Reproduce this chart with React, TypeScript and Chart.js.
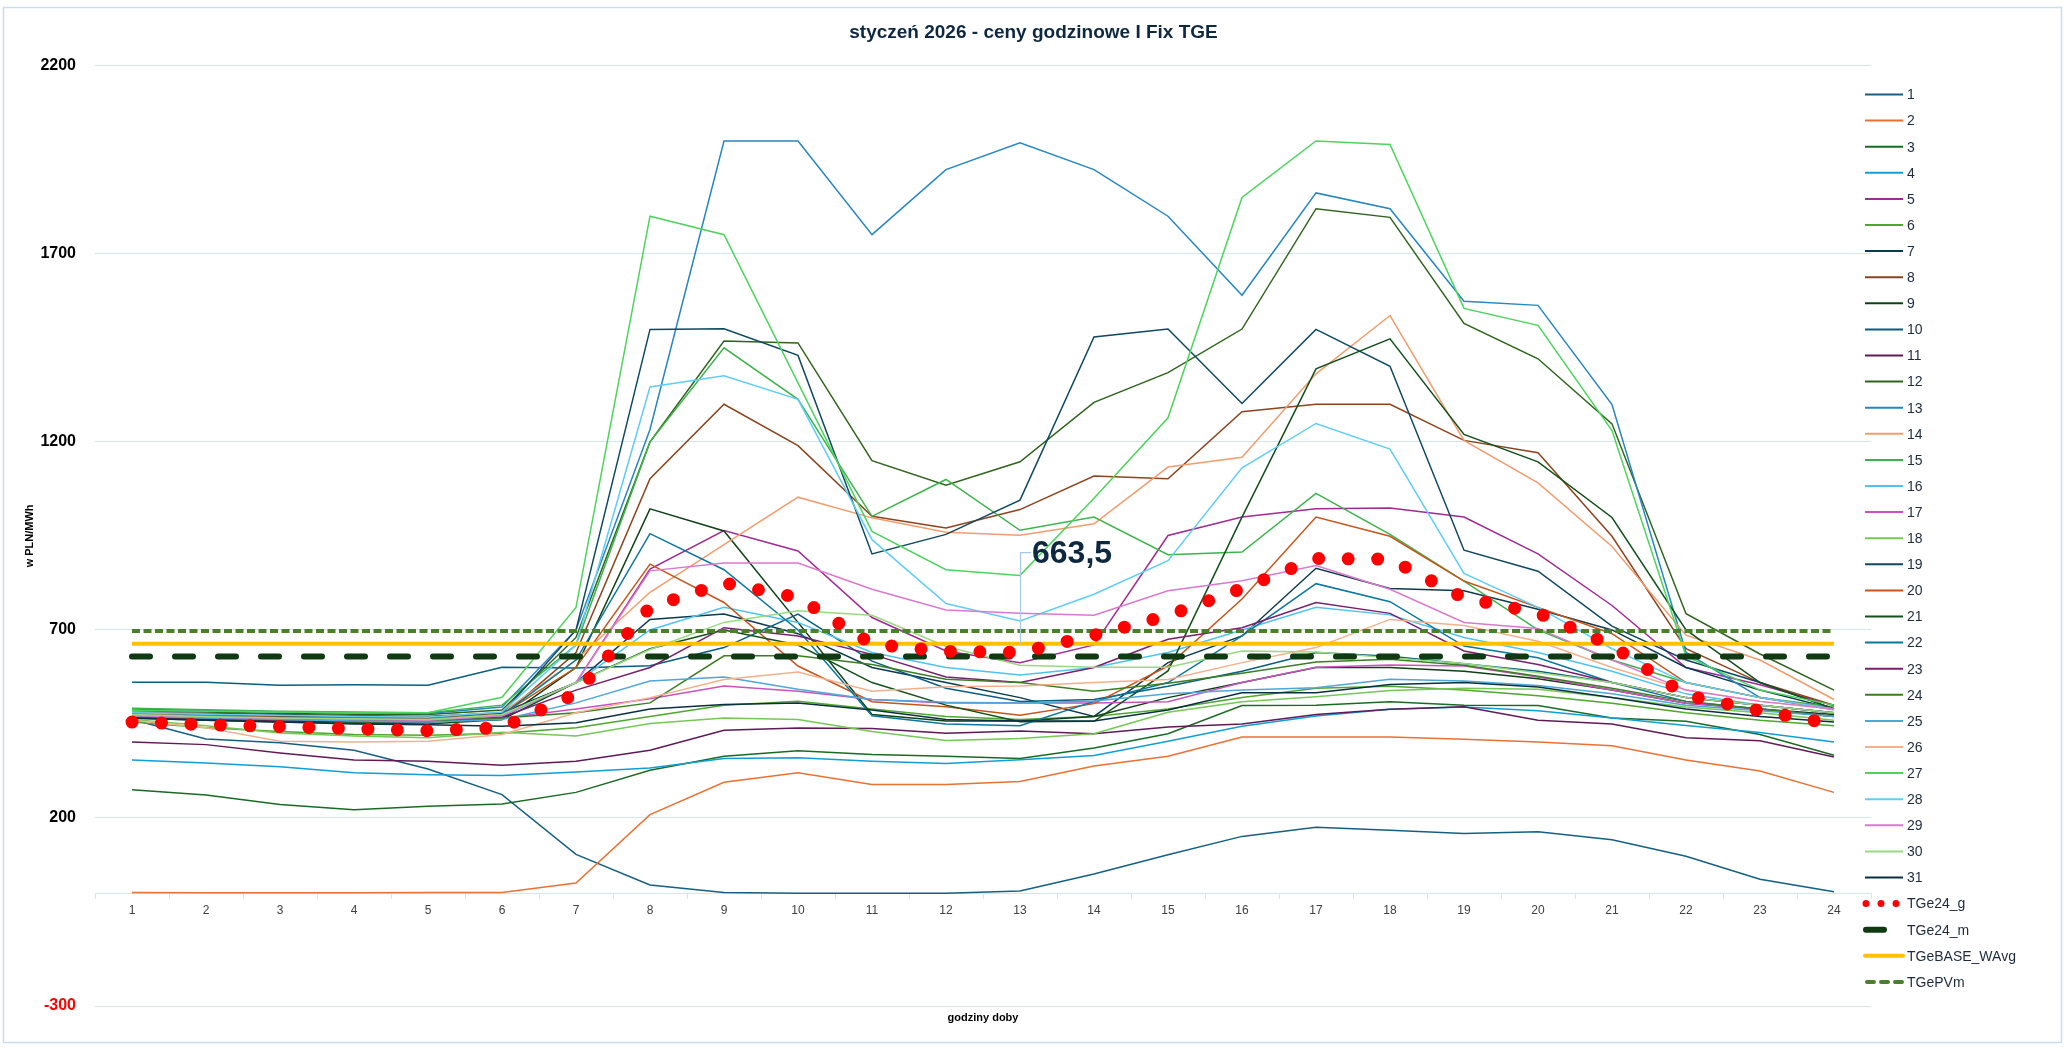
import React, { useEffect, useRef } from "react";
import { Chart, registerables } from "chart.js";

Chart.register(...registerables);

// ---------------- DATA ----------------
const TITLE = "styczeń 2026 - ceny godzinowe I Fix TGE";
const X_TITLE = "godziny doby";
const Y_TITLE = "w PLN/MWh";
const HOURS = ["1","2","3","4","5","6","7","8","9","10","11","12","13","14","15","16","17","18","19","20","21","22","23","24"];
const Y_TICKS = [-300, 200, 700, 1200, 1700, 2200];

const DAY_01 = [462, 410, 400, 380, 330, 262, 103, 22, 2, 0, 0, 0, 6, 51, 102, 151, 175, 167, 159, 163, 142, 98, 37, 4];
const DAY_02 = [2, 1, 1, 1, 2, 2, 27, 209, 295, 320, 289, 289, 297, 338, 364, 415, 415, 415, 409, 402, 392, 354, 325, 268];
const DAY_03 = [275, 261, 236, 222, 231, 237, 268, 327, 364, 379, 369, 364, 358, 386, 424, 499, 500, 509, 500, 499, 466, 457, 422, 367];
const DAY_04 = [354, 346, 336, 320, 315, 313, 322, 333, 358, 360, 351, 345, 355, 366, 404, 444, 471, 489, 495, 485, 466, 446, 427, 402];
const DAY_05 = [478, 474, 470, 468, 466, 478, 560, 862, 964, 910, 733, 644, 613, 660, 951, 1000, 1022, 1024, 1000, 902, 765, 600, 554, 499];
const DAY_06 = [455, 440, 430, 422, 420, 425, 440, 470, 500, 510, 490, 470, 462, 470, 490, 520, 545, 550, 540, 525, 505, 480, 460, 445];
const DAY_07 = [480, 478, 475, 472, 470, 480, 560, 728, 742, 690, 600, 560, 520, 470, 613, 684, 864, 810, 804, 755, 700, 600, 540, 490];
const DAY_08 = [470, 466, 462, 460, 458, 470, 640, 1102, 1300, 1190, 1002, 971, 1020, 1109, 1102, 1280, 1300, 1300, 1204, 1171, 949, 650, 560, 500];
const DAY_09 = [470, 462, 458, 455, 455, 462, 600, 1022, 963, 720, 475, 458, 458, 470, 520, 560, 600, 600, 590, 570, 540, 505, 490, 475];
const DAY_10 = [561, 561, 553, 554, 553, 601, 599, 605, 653, 742, 617, 545, 510, 515, 550, 590, 640, 630, 610, 590, 560, 520, 500, 480];
const DAY_11 = [402, 395, 373, 354, 351, 340, 351, 380, 433, 439, 438, 425, 431, 424, 442, 450, 475, 489, 496, 460, 450, 413, 405, 362];
const DAY_12 = [485, 482, 478, 476, 475, 487, 680, 1200, 1468, 1463, 1150, 1085, 1147, 1305, 1384, 1500, 1820, 1797, 1515, 1421, 1248, 743, 636, 540];
const DAY_13 = [490, 486, 482, 480, 478, 495, 700, 1233, 2000, 2000, 1751, 1924, 1995, 1924, 1800, 1590, 1862, 1820, 1574, 1563, 1299, 640, 520, 488];
const DAY_14 = [480, 476, 472, 470, 468, 480, 620, 800, 927, 1053, 998, 960, 952, 982, 1133, 1159, 1381, 1536, 1204, 1091, 922, 686, 620, 515];
const DAY_15 = [492, 488, 484, 482, 480, 500, 660, 1200, 1450, 1313, 1002, 1100, 965, 1000, 900, 907, 1063, 954, 830, 700, 620, 560, 520, 495];
const DAY_16 = [470, 466, 463, 460, 458, 470, 560, 700, 760, 720, 640, 600, 580, 600, 640, 700, 760, 740, 680, 640, 590, 530, 500, 480];
const DAY_17 = [470, 465, 462, 460, 458, 465, 490, 517, 551, 537, 515, 506, 506, 506, 509, 560, 601, 607, 604, 575, 540, 505, 490, 470];
const DAY_18 = [462, 445, 426, 418, 413, 428, 418, 451, 466, 462, 430, 406, 411, 424, 481, 509, 522, 539, 545, 542, 520, 495, 480, 460];
const DAY_19 = [478, 474, 470, 468, 466, 478, 700, 1499, 1501, 1430, 902, 954, 1045, 1479, 1500, 1302, 1499, 1401, 912, 856, 710, 620, 560, 490];
const DAY_20 = [476, 472, 468, 466, 464, 476, 600, 875, 773, 604, 509, 496, 473, 504, 604, 782, 1000, 949, 830, 760, 690, 560, 520, 490];
const DAY_21 = [465, 460, 455, 452, 450, 462, 560, 650, 700, 660, 560, 500, 456, 457, 591, 1000, 1394, 1474, 1220, 1147, 999, 700, 560, 490];
const DAY_22 = [474, 470, 466, 464, 462, 474, 620, 956, 860, 700, 472, 450, 445, 510, 560, 684, 823, 775, 657, 626, 560, 510, 490, 470];
const DAY_23 = [468, 464, 460, 458, 456, 468, 540, 600, 706, 684, 635, 575, 560, 600, 675, 706, 773, 744, 644, 608, 560, 520, 500, 480];
const DAY_24 = [470, 466, 462, 460, 458, 466, 480, 506, 631, 631, 608, 569, 560, 537, 558, 585, 615, 622, 606, 577, 545, 510, 490, 470];
const DAY_25 = [472, 466, 462, 458, 455, 462, 506, 564, 575, 542, 515, 508, 506, 511, 530, 540, 546, 569, 564, 552, 530, 500, 485, 470];
const DAY_26 = [460, 440, 404, 402, 404, 422, 480, 520, 568, 588, 537, 549, 551, 560, 568, 613, 653, 728, 712, 670, 600, 540, 510, 490];
const DAY_27 = [486, 484, 482, 480, 480, 521, 760, 1800, 1751, 1357, 962, 860, 845, 1050, 1264, 1850, 2000, 1991, 1555, 1510, 1230, 630, 540, 500];
const DAY_28 = [480, 476, 473, 470, 468, 482, 660, 1346, 1376, 1313, 940, 770, 724, 795, 884, 1131, 1249, 1181, 850, 760, 650, 560, 520, 490];
const DAY_29 = [472, 468, 465, 462, 460, 472, 560, 857, 878, 878, 808, 753, 744, 739, 804, 831, 871, 808, 720, 704, 620, 540, 510, 490];
const DAY_30 = [475, 470, 466, 464, 462, 475, 560, 648, 720, 751, 739, 656, 606, 601, 601, 644, 641, 626, 611, 586, 560, 520, 500, 480];
const DAY_31 = [466, 460, 455, 450, 448, 444, 453, 490, 502, 506, 487, 462, 458, 458, 487, 533, 533, 555, 560, 548, 520, 490, 470, 455];

const TGE24_G = [455, 448, 443, 437, 432, 440, 530, 760, 825, 786, 662, 643, 640, 686, 738, 810, 890, 888, 785, 745, 658, 526, 485, 449];
const TGE24_M = [629, 629, 629, 629, 629, 629, 629, 629, 629, 629, 629, 629, 629, 629, 629, 629, 629, 629, 629, 629, 629, 629, 629, 629];
const TGEBASE_WAVG = [663.5, 663.5, 663.5, 663.5, 663.5, 663.5, 663.5, 663.5, 663.5, 663.5, 663.5, 663.5, 663.5, 663.5, 663.5, 663.5, 663.5, 663.5, 663.5, 663.5, 663.5, 663.5, 663.5, 663.5];
const TGEPVM = [697, 697, 697, 697, 697, 697, 697, 697, 697, 697, 697, 697, 697, 697, 697, 697, 697, 697, 697, 697, 697, 697, 697, 697];

const DAYS = [DAY_01, DAY_02, DAY_03, DAY_04, DAY_05, DAY_06, DAY_07, DAY_08, DAY_09, DAY_10, DAY_11, DAY_12, DAY_13, DAY_14, DAY_15, DAY_16, DAY_17, DAY_18, DAY_19, DAY_20, DAY_21, DAY_22, DAY_23, DAY_24, DAY_25, DAY_26, DAY_27, DAY_28, DAY_29, DAY_30, DAY_31];
const LABELED_HOUR_INDEX = 12; // data label on TGeBASE_WAvg at hour 13

// ---------------- STYLE ----------------
const DAY_COLORS = [
  "#156082", "#E97132", "#196B24", "#0F9ED5", "#A02B93", "#4EA72E",
  "#0D3A4E", "#8C441E", "#0F4016", "#095F80", "#601A58", "#2F641C",
  "#2586C0", "#F19D6F", "#3CB34B", "#4FC3F0", "#CB52BE", "#74C955",
  "#104862", "#C4561B", "#13501B", "#0B77A0", "#78206E", "#3B7D23",
  "#4FA6D8", "#F3B08C", "#4CD45C", "#5FCDF5", "#DB78D0", "#98DA7F",
  "#0B3041",
];
const GRID = "#D3E4F4";
const FONT = "'Liberation Sans', Arial, sans-serif";
const TEXT_DARK = "#0E2841";

const framePlugin = {
  id: "frame",
  beforeDraw(chart: any) {
    const ctx = chart.ctx;
    ctx.save();
    ctx.fillStyle = "#FFFFFF";
    ctx.fillRect(0, 0, chart.width, chart.height);
    ctx.strokeStyle = "#CADDF0";
    ctx.lineWidth = 1.5;
    ctx.strokeRect(3.5, 7.5, chart.width - 9, chart.height - 15);
    ctx.restore();
  },
};

const dataLabelPlugin = {
  id: "baseLabel",
  afterDatasetsDraw(chart: any) {
    const idx = chart.data.datasets.findIndex((d: any) => d.label === "TGeBASE_WAvg");
    if (idx < 0) return;
    const meta = chart.getDatasetMeta(idx);
    const pt = meta.data[LABELED_HOUR_INDEX];
    if (!pt) return;
    const value = chart.data.datasets[idx].data[LABELED_HOUR_INDEX];
    const ctx = chart.ctx;
    const x = pt.x;
    const y = pt.y;
    const ly = y - 91;
    ctx.save();
    ctx.strokeStyle = "#A9C8EA";
    ctx.lineWidth = 1.2;
    ctx.beginPath();
    ctx.moveTo(x + 0.5, y);
    ctx.lineTo(x + 0.5, ly);
    ctx.lineTo(x + 11, ly);
    ctx.stroke();
    ctx.fillStyle = TEXT_DARK;
    ctx.font = `bold 32px ${FONT}`;
    ctx.textAlign = "left";
    ctx.textBaseline = "middle";
    ctx.fillText(Number(value).toFixed(1).replace(".", ","), x + 12, ly + 2);
    ctx.restore();
  },
};

const legendPlugin = {
  id: "sideLegend",
  afterDraw(chart: any) {
    const ctx = chart.ctx;
    const area = chart.chartArea;
    const x0 = area.right - 6;
    const x1 = x0 + 38;
    const top = area.top + 28.7;
    const pitch = 26.1;
    ctx.save();
    chart.data.datasets.forEach((ds: any, i: number) => {
      const y = top + i * pitch;
      ctx.save();
      ctx.strokeStyle = ds.borderColor;
      ctx.setLineDash([]);
      if (ds.legendKind === "dots") {
        ctx.lineWidth = 7;
        ctx.lineCap = "round";
        ctx.setLineDash([0, 15]);
        ctx.beginPath();
        ctx.moveTo(x0 + 1, y);
        ctx.lineTo(x0 + 33, y);
        ctx.stroke();
      } else if (ds.legendKind === "longdash") {
        ctx.lineWidth = 6;
        ctx.lineCap = "round";
        ctx.beginPath();
        ctx.moveTo(x0 + 1, y);
        ctx.lineTo(x0 + 19, y);
        ctx.stroke();
      } else if (ds.legendKind === "dash") {
        ctx.lineWidth = 4;
        ctx.lineCap = "round";
        ctx.setLineDash([7, 7]);
        ctx.beginPath();
        ctx.moveTo(x0 + 2, y);
        ctx.lineTo(x1, y);
        ctx.stroke();
      } else if (ds.legendKind === "thick") {
        ctx.lineWidth = 4;
        ctx.lineCap = "round";
        ctx.beginPath();
        ctx.moveTo(x0, y);
        ctx.lineTo(x1, y);
        ctx.stroke();
      } else {
        ctx.lineWidth = 2;
        ctx.beginPath();
        ctx.moveTo(x0, y);
        ctx.lineTo(x1, y);
        ctx.stroke();
      }
      ctx.restore();
      ctx.fillStyle = "#1E2B3C";
      ctx.font = `14px ${FONT}`;
      ctx.textAlign = "left";
      ctx.textBaseline = "middle";
      ctx.fillText(ds.label, x1 + 4, y + 1);
    });
    ctx.restore();
  },
};

export default function App() {
  const canvasRef = useRef<HTMLCanvasElement | null>(null);

  useEffect(() => {
    if (!canvasRef.current) return;
    const dayDatasets = DAYS.map((values, i) => ({
      label: String(i + 1),
      data: values,
      borderColor: DAY_COLORS[i],
      backgroundColor: DAY_COLORS[i],
      borderWidth: 1.5,
      pointRadius: 0,
      tension: 0,
      fill: false,
      order: 100 - i,
      legendKind: "line",
    }));
    const datasets: any[] = [
      ...dayDatasets,
      {
        label: "TGe24_g",
        data: TGE24_G,
        borderColor: "#FF0000",
        backgroundColor: "#FF0000",
        borderWidth: 13,
        borderDash: [0, 29.5],
        borderCapStyle: "round",
        pointRadius: 0,
        tension: 0,
        fill: false,
        order: 1,
        legendKind: "dots",
      },
      {
        label: "TGe24_m",
        data: TGE24_M,
        borderColor: "#0F3A12",
        backgroundColor: "#0F3A12",
        borderWidth: 6,
        borderDash: [18, 25],
        borderCapStyle: "round",
        pointRadius: 0,
        tension: 0,
        fill: false,
        order: 4,
        legendKind: "longdash",
      },
      {
        label: "TGeBASE_WAvg",
        data: TGEBASE_WAVG,
        borderColor: "#FFC000",
        backgroundColor: "#FFC000",
        borderWidth: 4,
        pointRadius: 0,
        tension: 0,
        fill: false,
        order: 3,
        legendKind: "thick",
      },
      {
        label: "TGePVm",
        data: TGEPVM,
        borderColor: "#4A7F2C",
        backgroundColor: "#4A7F2C",
        borderWidth: 4,
        borderDash: [8, 3.5],
        pointRadius: 0,
        tension: 0,
        fill: false,
        order: 2,
        legendKind: "dash",
      },
    ];

    const chart = new Chart(canvasRef.current, {
      type: "line",
      data: { labels: HOURS, datasets },
      options: {
        responsive: false,
        animation: false,
        devicePixelRatio: 1,
        layout: { padding: { left: 0, right: 0, top: 0, bottom: 0 } },
        plugins: {
          legend: { display: false },
          tooltip: { enabled: false },
          title: {
            display: true,
            text: TITLE,
            color: TEXT_DARK,
            font: { family: FONT, size: 19, weight: "bold" },
            padding: { top: 21, bottom: 22 },
          },
          subtitle: {
            display: true,
            position: "bottom",
            fullSize: false,
            text: X_TITLE,
            color: "#000000",
            font: { family: FONT, size: 11, weight: "bold" },
            padding: { top: 5, bottom: 25.8 },
          },
        },
        scales: {
          x: {
            type: "category",
            position: { y: 0 } as any,
            offset: true,
            grid: {
              display: true,
              drawOnChartArea: false,
              drawTicks: true,
              tickLength: 5,
              offset: true,
              color: GRID,
            },
            border: { display: true, color: GRID, width: 1 },
            ticks: {
              color: "#404040",
              font: { family: FONT, size: 12 },
              padding: 5,
              maxRotation: 0,
              autoSkip: false,
            },
            afterFit: (s: any) => {
              s.height = 0;
            },
          },
          y: {
            type: "linear",
            min: -300,
            max: 2200,
            afterBuildTicks: (s: any) => {
              s.ticks = Y_TICKS.map((v) => ({ value: v }));
            },
            grid: { color: GRID, drawTicks: false, lineWidth: 1 },
            border: { display: false },
            ticks: {
              padding: 19,
              callback: (v: any) => String(v),
              color: (c: any) => (c.tick && c.tick.value < 0 ? "#FF0000" : "#000000"),
              font: { family: FONT, size: 16, weight: "bold" },
            },
            title: {
              display: true,
              text: Y_TITLE,
              color: "#000000",
              font: { family: FONT, size: 11, weight: "bold" },
              padding: { top: 23, bottom: 0 },
            },
            afterFit: (s: any) => {
              s.width = 95;
            },
          },
          legendSpace: {
            type: "linear",
            position: "right",
            display: true,
            grid: { display: false, drawOnChartArea: false, drawTicks: false },
            border: { display: false },
            ticks: { display: false },
            afterFit: (s: any) => {
              s.width = 196;
            },
          },
        },
      } as any,
      plugins: [framePlugin, dataLabelPlugin, legendPlugin],
    });
    return () => chart.destroy();
  }, []);

  return (
    <div style={{ position: "fixed", left: 0, top: 0, width: 2067, height: 1050, background: "#FFFFFF" }}>
      <canvas ref={canvasRef} width={2067} height={1050} style={{ display: "block", width: 2067, height: 1050 }} />
    </div>
  );
}
